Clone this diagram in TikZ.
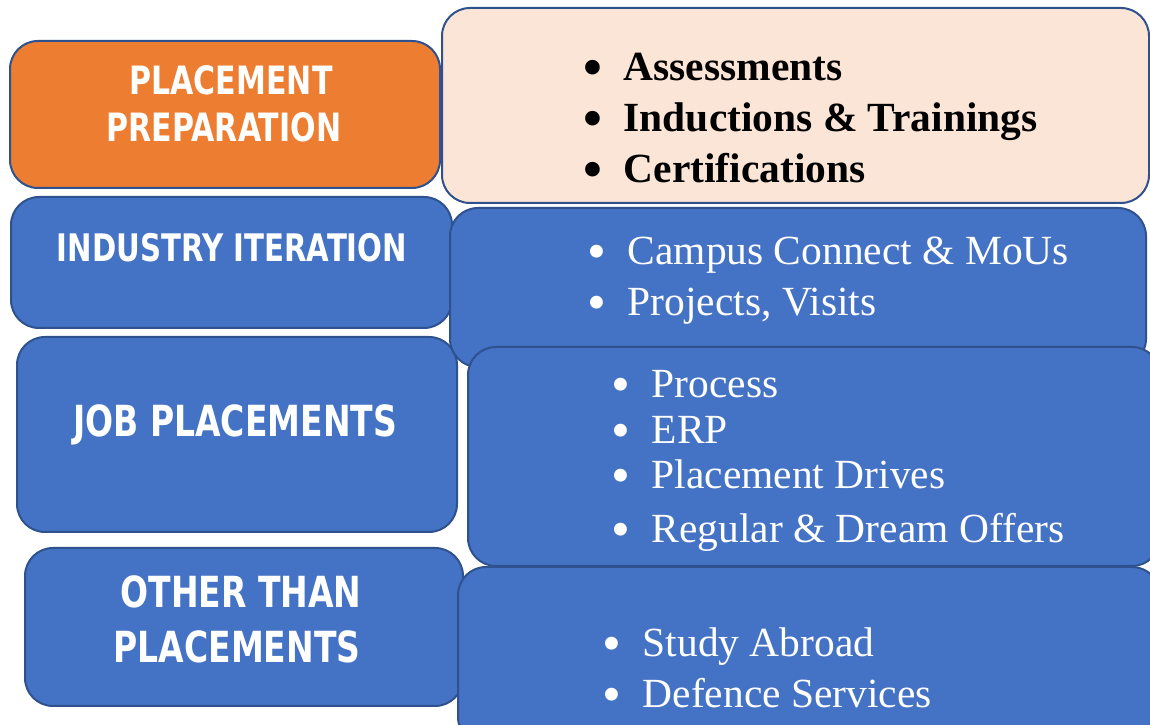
\documentclass[tikz,border=0pt]{standalone}
\usepackage{fontspec}
\setmainfont{Liberation Serif}
\newfontfamily\headfont[FakeStretch=0.77]{DejaVu Sans}
\usetikzlibrary{positioning}
\definecolor{orng}{HTML}{ED7D31}
\definecolor{blu}{HTML}{4472C4}
\definecolor{peach}{HTML}{FBE5D6}
\definecolor{bord}{HTML}{2F528F}
\newcommand{\blt}{\makebox[4mm][l]{\raisebox{-0.5mm}{\scalebox{1.3}{\textbullet}}}}

\begin{document}
\begin{tikzpicture}[x=0.1mm,y=-0.1mm]
	\tikzstyle{box}=[draw=bord,line width=0.2mm,rounded corners=2.8mm,inner sep=0pt]
	\tikzstyle{head}=[text=white,inner sep=0pt,anchor=base,font=\headfont\bfseries\fontsize{11.1pt}{13pt}\selectfont]
	\tikzstyle{bighead}=[head,font=\headfont\bfseries\fontsize{12.2pt}{14pt}\selectfont]
	\tikzstyle{item}=[text=white,inner sep=0pt,anchor=base west,text height=0.7em,text depth=0.2em,font=\fontsize{11.8pt}{14pt}\selectfont]
	\tikzstyle{bolditem}=[item,text=black,font=\bfseries\fontsize{11.8pt}{14pt}\selectfont]
	
	\useasboundingbox (0,0) rectangle (1150,725);
	\clip (0,0) rectangle (1150,725);
	
	% left column
	\node[box,fill=orng,minimum width=43mm,minimum height=14.7mm] (prep) at (225,114.5) {};
	\node[box,fill=blu,minimum width=44.1mm,minimum height=13.1mm] (ind) at (231.5,262.5) {};
	\node[box,fill=blu,minimum width=44mm,minimum height=19.5mm] (job) at (237,434.5) {};
	\node[box,fill=blu,minimum width=43.8mm,minimum height=15.8mm] (oth) at (244,627) {};
	
	\node[head] (prep1) at (231,95) {PLACEMENT};
	\node[head] (prep2) at (224,142) {PREPARATION};
	\node[head,font=\headfont\bfseries\fontsize{10.8pt}{13pt}\selectfont] (ind1) at (232,262) {INDUSTRY ITERATION};
	\node[bighead] (job1) at (235,437) {JOB PLACEMENTS};
	\node[bighead] (oth1) at (241,608) {OTHER THAN};
	\node[bighead] (oth2) at (237,663) {PLACEMENTS};
	
	% right column
	\node[box,fill=peach,minimum width=70.7mm,minimum height=19.5mm] (prepR) at (795.5,105.5) {};
	\node[box,fill=blu,minimum width=69.6mm,minimum height=15.9mm] (indR) at (798,287.5) {};
	\node[box,fill=blu,minimum width=69.2mm,minimum height=21.9mm] (jobR) at (814,456.5) {};
	\node[box,fill=blu,minimum width=70.2mm,minimum height=17.8mm] (othR) at (809,656) {};
	
	\node[bolditem] (a1) at (583,81) {\blt Assessments};
	\node[bolditem] (a2) at (583,132) {\blt Inductions \& Trainings};
	\node[bolditem] (a3) at (583,183) {\blt Certifications};
	
	\node[item] (b1) at (587,265) {\blt Campus Connect \& MoUs};
	\node[item] (b2) at (587,316) {\blt Projects, Visits};
	
	\node[item] (c1) at (611,398) {\blt Process};
	\node[item] (c2) at (611,444) {\blt ERP};
	\node[item] (c3) at (611,489) {\blt Placement Drives};
	\node[item] (c4) at (611,543) {\blt Regular \& Dream Offers};
	
	\node[item] (d1) at (602,657) {\blt Study Abroad};
	\node[item] (d2) at (602,708) {\blt Defence Services};
	
\end{tikzpicture}
\end{document}
